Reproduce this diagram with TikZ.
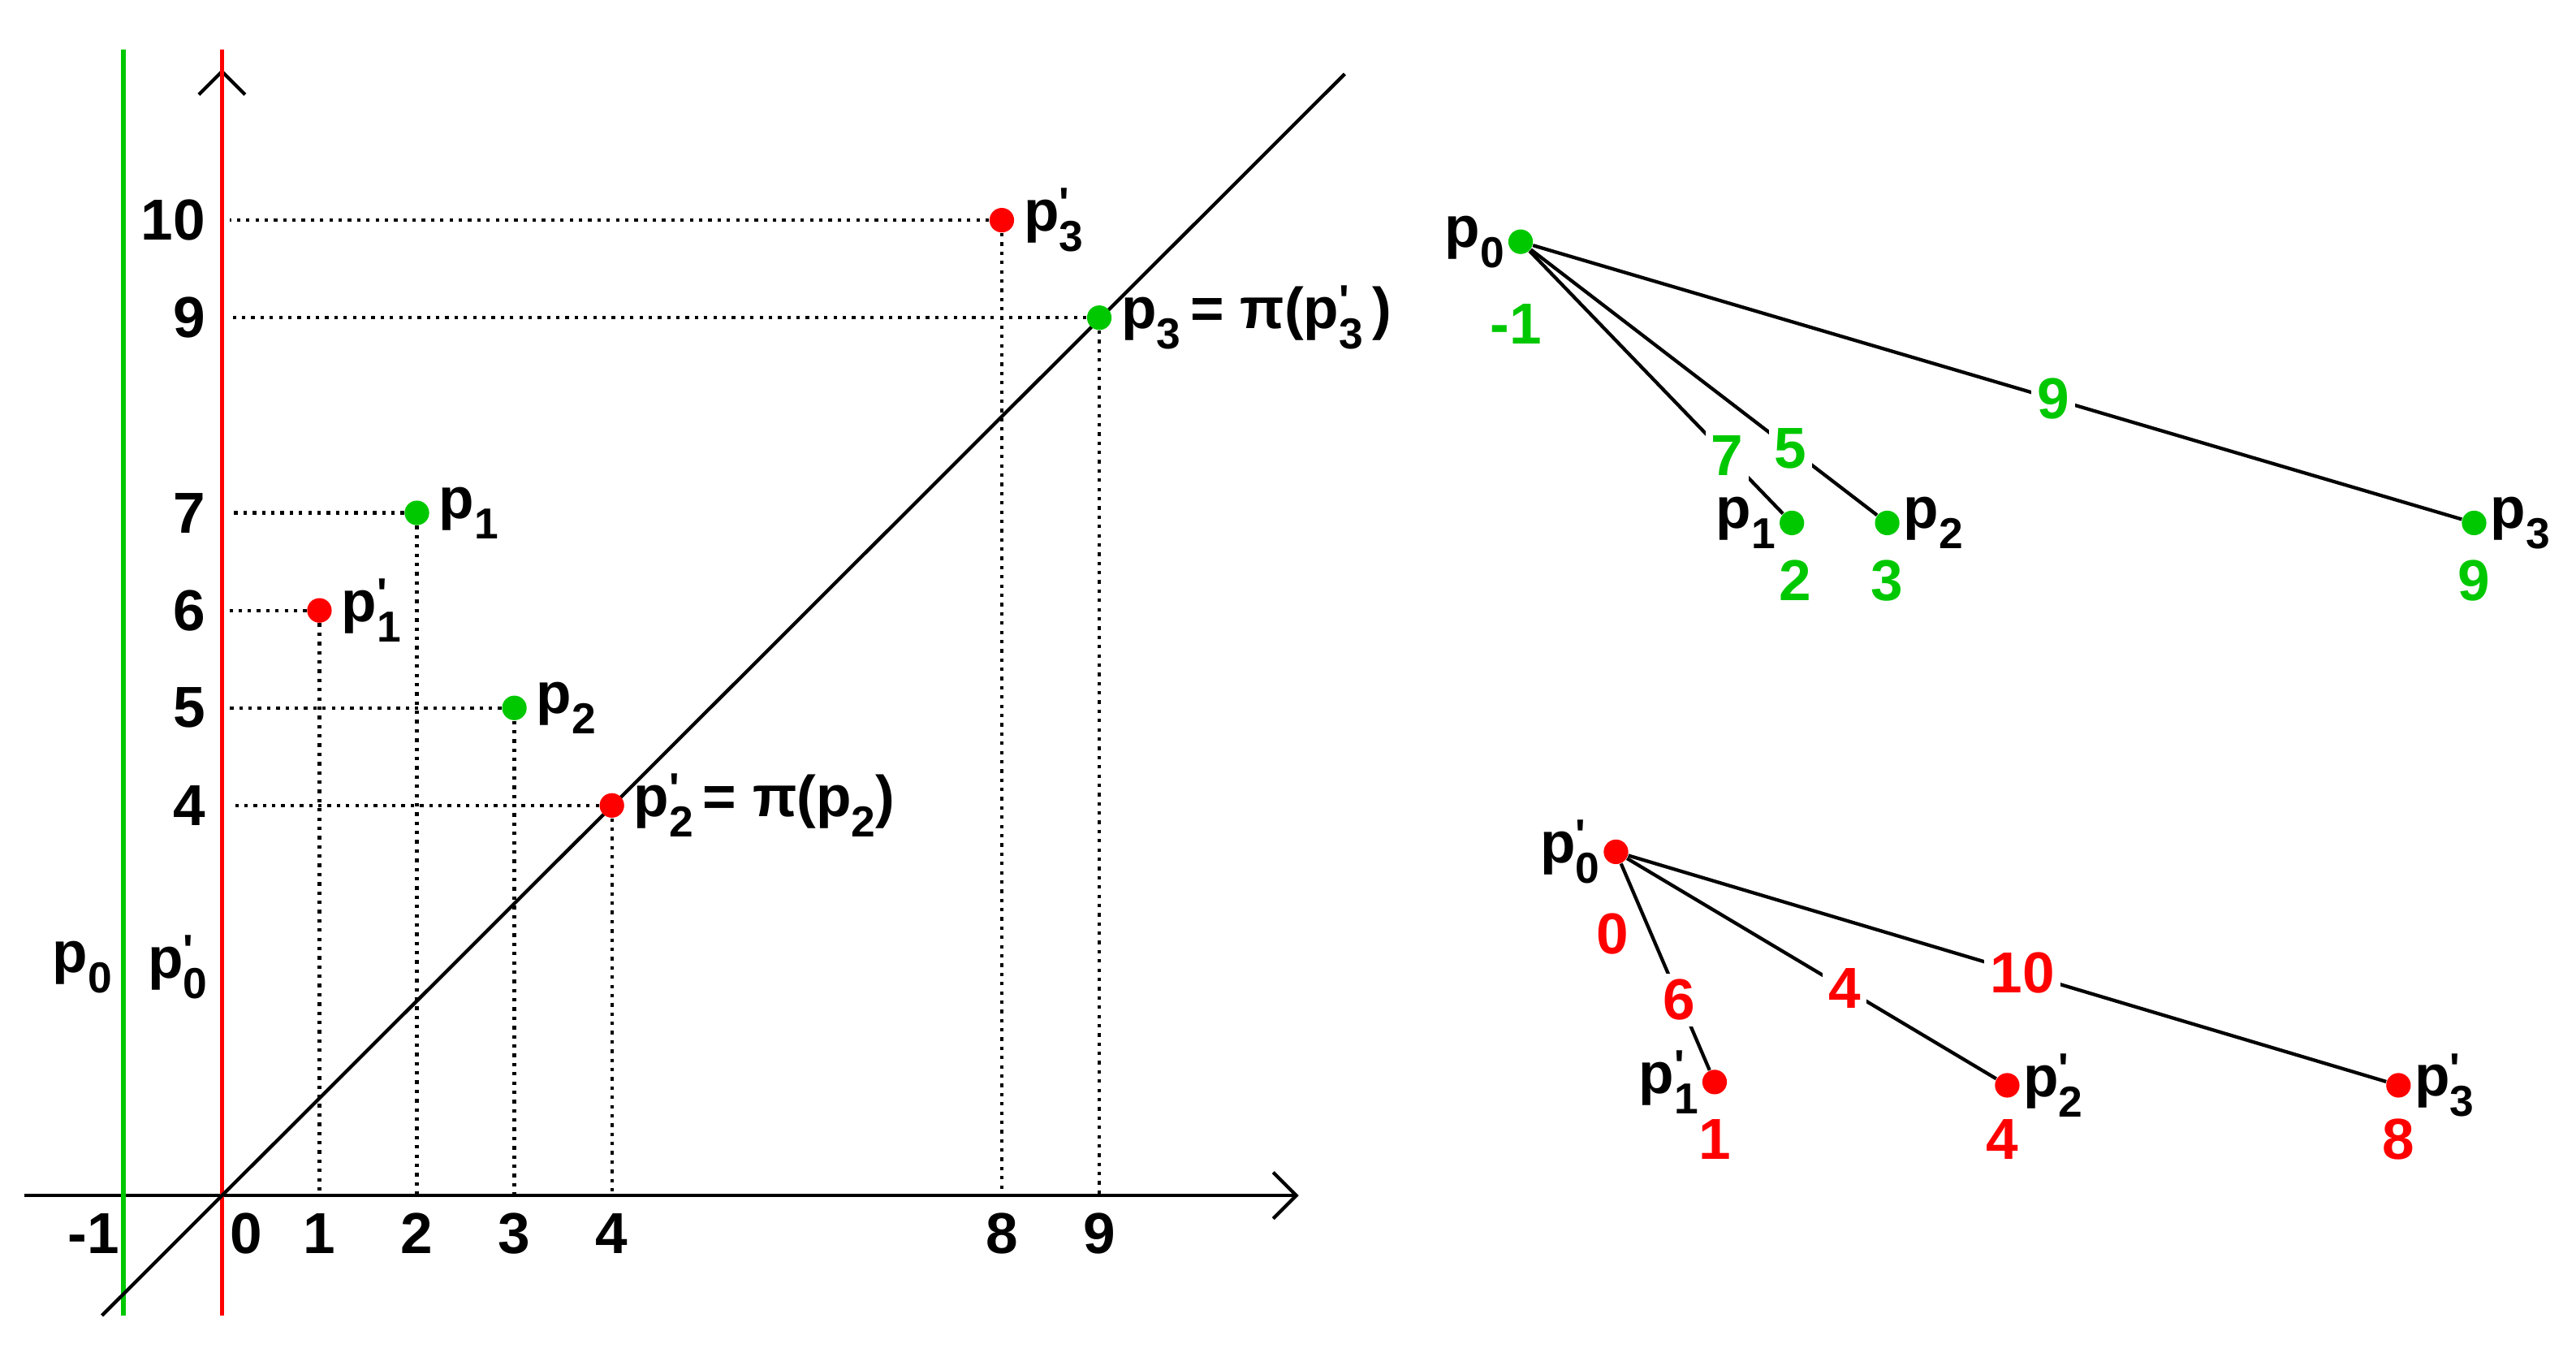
\documentclass[tikz,border=0pt]{standalone}
\usepackage{fontspec}
\setmainfont{Liberation Sans}
\usetikzlibrary{arrows.meta}
\definecolor{gr}{RGB}{0,200,0}
\definecolor{rd}{RGB}{255,0,0}
\newcommand{\subsz}{\fontsize{15}{18}\selectfont}
\newcommand{\Pp}[2]{p\makebox[0pt][l]{\raisebox{0.22em}{\subsz #2}}\raisebox{-0.35em}{\subsz #1}}
\newcommand{\pr}{\textquotesingle}
\tikzset{
 lbl/.style={font=\bfseries\fontsize{20}{24}\selectfont, inner sep=1pt},
 gdot/.style={circle, fill=gr, inner sep=0pt, minimum size=8.5pt},
 rdot/.style={circle, fill=rd, inner sep=0pt, minimum size=8.5pt},
 dotl/.style={dotted, line width=1.2pt},
 edge/.style={line width=1.2pt},
 elab/.style={lbl, fill=white, inner sep=2pt}
}
\begin{document}
\begin{tikzpicture}[x=0.02cm,y=-0.02cm]
\useasboundingbox (0,0) rectangle (1567,825);
% axes
\draw[line width=1.2pt,-{Straight Barb[length=8pt,width=16pt]}] (15,727) -- (790,727);
\draw[line width=1.2pt,-{Straight Barb[length=8pt,width=16pt]}] (135,800) -- (135,42);
\draw[gr,line width=1.6pt] (75,30) -- (75,800);
\draw[rd,line width=1.6pt] (135,30) -- (135,800);
\draw[line width=1.2pt] (62,800) -- (818,45);
% points
\node[gdot] (p1) at (253.6,311.9) {};
\node[rdot] (p1s) at (194.3,371.2) {};
\node[gdot] (p2) at (312.9,430.5) {};
\node[rdot] (p2s) at (372.2,489.8) {};
\node[rdot] (p3s) at (609.4,133.9) {};
\node[gdot] (p3) at (668.7,193.2) {};
% tick labels
\foreach \v/\y in {10/133.9,9/193.2,7/311.9,6/371.2,5/430.5,4/489.8}
  \node[lbl,anchor=east] (ty\v) at (127,\y) {\v};
\foreach \v/\x in {-1/57,0/150,1/194.3,2/253.6,3/312.9,4/372.2,8/609.4,9/668.7}
  \node[lbl] (tx\v) at (\x,750) {\v};
% dotted guides
\foreach \n in {p1,p1s,p2,p2s,p3s,p3}{
  \draw[dotl] (\n) -- (\n |- 0,727);
  \draw[dotl] (\n) -- (140,0 |- \n);
}
% point labels
\node[lbl,anchor=west] at ([xshift=2pt]p1.east) {\Pp{1}{}};
\node[lbl,anchor=west] at ([xshift=2pt]p1s.east) {\Pp{1}{\pr}};
\node[lbl,anchor=west] at ([xshift=2pt]p2.east) {\Pp{2}{}};
\node[lbl,anchor=west] at ([xshift=2pt]p2s.east) {\Pp{2}{\pr}\,= π(\Pp{2}{})};
\node[lbl,anchor=west] at ([xshift=2pt]p3s.east) {\Pp{3}{\pr}};
\node[lbl,anchor=west] at ([xshift=2pt]p3.east) {\Pp{3}{}\,= π(\Pp{3}{\pr}\,)};
\node[lbl] at (50,588) {\Pp{0}{}};
\node[lbl] at (108,588) {\Pp{0}{\pr}};
% top right tree
\node[gdot] (a0) at (925,147) {};
\node[gdot] (a1) at (1090,318) {};
\node[gdot] (a2) at (1148,318) {};
\node[gdot] (a3) at (1505,318) {};
\draw[edge] (a0) -- node[elab,text=gr,pos=0.78] {7} (a1);
\draw[edge] (a0) -- node[elab,text=gr,pos=0.75] {5} (a2);
\draw[edge] (a0) -- node[elab,text=gr,pos=0.56] {9} (a3);
\node[lbl,anchor=east] at (a0.west) {\Pp{0}{}};
\node[lbl,anchor=east] at (a1.west) {\Pp{1}{}};
\node[lbl,anchor=west] at (a2.east) {\Pp{2}{}};
\node[lbl,anchor=west] at (a3.east) {\Pp{3}{}};
\node[lbl,text=gr] at (922,197) {-1};
\node[lbl,text=gr] at (1092,353) {2};
\node[lbl,text=gr] at (1148,353) {3};
\node[lbl,text=gr] at (1505,353) {9};
% bottom right tree
\node[rdot] (b0) at (983,518) {};
\node[rdot] (b1) at (1043,658) {};
\node[rdot] (b2) at (1221,660) {};
\node[rdot] (b3) at (1459,660) {};
\draw[edge] (b0) -- node[elab,text=rd,pos=0.66] {6} (b1);
\draw[edge] (b0) -- node[elab,text=rd,pos=0.59] {4} (b2);
\draw[edge] (b0) -- node[elab,text=rd,pos=0.52] {10} (b3);
\node[lbl,anchor=east] at (b0.west) {\Pp{0}{\pr}};
\node[lbl,anchor=east] at (b1.west) {\Pp{1}{\pr}};
\node[lbl,anchor=west] at (b2.east) {\Pp{2}{\pr}};
\node[lbl,anchor=west] at (b3.east) {\Pp{3}{\pr}};
\node[lbl,text=rd] at (981,568) {0};
\node[lbl,text=rd] at (1043,693) {1};
\node[lbl,text=rd] at (1218,693) {4};
\node[lbl,text=rd] at (1459,693) {8};
\end{tikzpicture}
\end{document}
